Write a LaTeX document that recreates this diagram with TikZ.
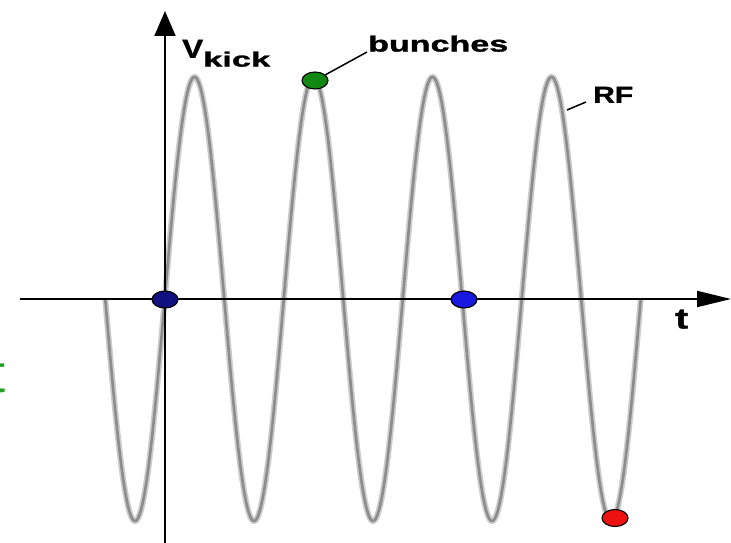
\documentclass[tikz,border=0pt]{standalone}
\usepackage{fontspec}
\setmainfont{Liberation Sans}
\newfontfamily\heavyfont[FakeBold=1.2]{Liberation Sans Bold}
\usetikzlibrary{arrows.meta,shapes.geometric}
\definecolor{navydot}{HTML}{101080}
\definecolor{bluedot}{HTML}{1818E0}
\definecolor{greendot}{HTML}{118811}
\definecolor{reddot}{HTML}{EE1111}
\definecolor{slidegreen}{HTML}{22A022}
\tikzset{
  axisline/.style={line width=2pt, black},
  wavehalo/.style={line width=6pt, black!20},
  wavecore/.style={line width=2.6pt, black!45},
  dotmark/.style={ellipse, draw=black, line width=1.1pt, minimum width=26pt, minimum height=17pt, inner sep=0pt},
  lbl/.style={inner sep=0pt, anchor=south west, font=\heavyfont},
  leader/.style={line width=1.5pt, black}
}
\begin{document}
\begin{tikzpicture}[x=1pt,y=-1pt]
\useasboundingbox (0,0) rectangle (731,543);
\clip (0,0) rectangle (731,543);
% RF wave
\draw[wavehalo] plot[domain=105.25:640.75, samples=500, smooth] (\x, {299+222*cos(3.02521*(\x-135))});
\draw[wavecore] plot[domain=105.25:640.75, samples=500, smooth] (\x, {299+222*cos(3.02521*(\x-135))});
% axes
\coordinate (xs) at (20,299);
\coordinate (xe) at (731,299);
\coordinate (ys) at (165,543);
\coordinate (ye) at (165,11);
\draw[axisline, -{Triangle[length=34pt,width=16pt]}] (xs) -- (xe);
\draw[axisline, -{Triangle[length=25pt,width=21pt]}] (ys) -- (ye);
% dots
\node[dotmark, fill=navydot] (d1) at (165,299.5) {};
\node[dotmark, fill=bluedot] (d2) at (464,299.5) {};
\node[dotmark, fill=greendot] (g) at (315,80.5) {};
\node[dotmark, fill=reddot] (r) at (615,518) {};
% labels
\node[lbl] (V) at (182,58) {\resizebox{21pt}{18pt}{V}};
\node[lbl] (kick) at (203,67) {\resizebox{67pt}{15pt}{kick}};
\node[lbl] (bunches) at (368,52) {\resizebox{140pt}{16pt}{bunches}};
\node[lbl] (RF) at (593,103) {\resizebox{40pt}{16pt}{RF}};
\node[lbl] (t) at (675,329) {\resizebox{13pt}{19pt}{t}};
\node[inner sep=0pt, anchor=south east, text=slidegreen] (gt) at (6,393) {\resizebox{!}{35pt}{t}};
% leaders
\coordinate (rfpt) at (567,110);
\coordinate (rfend) at (586,102);
\draw[leader] (g) -- ([xshift=-1pt]bunches.south west);
\draw[leader] (rfpt) -- (rfend);
\end{tikzpicture}
\end{document}
